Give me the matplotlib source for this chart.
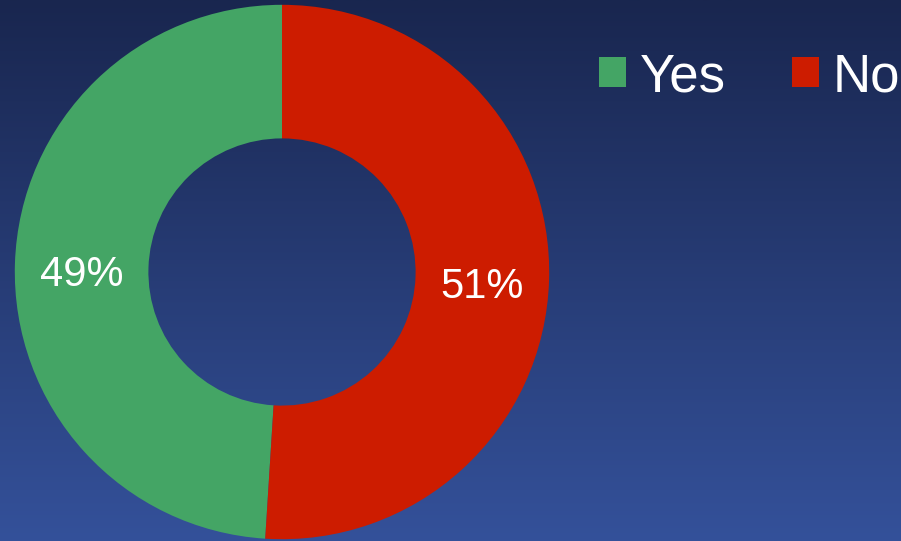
import numpy as np
import matplotlib
matplotlib.use('Agg')
import matplotlib.pyplot as plt
from matplotlib.colors import LinearSegmentedColormap

# Chart data
labels = ['Yes', 'No']
shares = [49, 51]
colors = ['#44a565', '#cd1c00']

plt.rcParams['font.family'] = ['Liberation Sans', 'DejaVu Sans']

W, H = 901, 541
fig = plt.figure(figsize=(W / 100, H / 100), dpi=100)

# Background gradient (dark navy at top to blue at bottom)
bg = fig.add_axes([0, 0, 1, 1], zorder=0)
bg_cmap = LinearSegmentedColormap.from_list('bg', ['#34519a', '#19264f'])
bg.imshow(np.linspace(0, 1, 256).reshape(-1, 1), cmap=bg_cmap, aspect='auto',
          origin='lower', extent=[0, 1, 0, 1])
bg.set_axis_off()

# Donut axes placed in pixels: centre (282, 272), radius 268
cx, cy, r = 282, 272, 268
ax = fig.add_axes([(cx - r) / W, (H - cy - r) / H, 2 * r / W, 2 * r / H], zorder=1)
ax.patch.set_alpha(0)
wedges, texts, autotexts = ax.pie(
    shares, colors=colors, startangle=90, counterclock=True,
    autopct='%1.0f%%', pctdistance=0.75,
    wedgeprops=dict(width=0.5, linewidth=0),
    textprops=dict(color='white', fontsize=30))
# labels sit a little lower in the original
for t in autotexts:
    x, y = t.get_position()
    t.set_position((x, y - 0.034))
ax.set_xlim(-1.003, 1.003)
ax.set_ylim(-1.003, 1.003)
ax.set_aspect('equal')

leg = fig.legend(wedges, labels, loc='upper left', bbox_to_anchor=(599 / W, 1 - 52 / H),
                 ncol=2, frameon=False, fontsize=38, labelcolor='white',
                 handlelength=0.51, handleheight=0.51, handletextpad=0.26,
                 columnspacing=1.25, borderpad=0, borderaxespad=0)

fig.savefig('out.png', dpi=100)
